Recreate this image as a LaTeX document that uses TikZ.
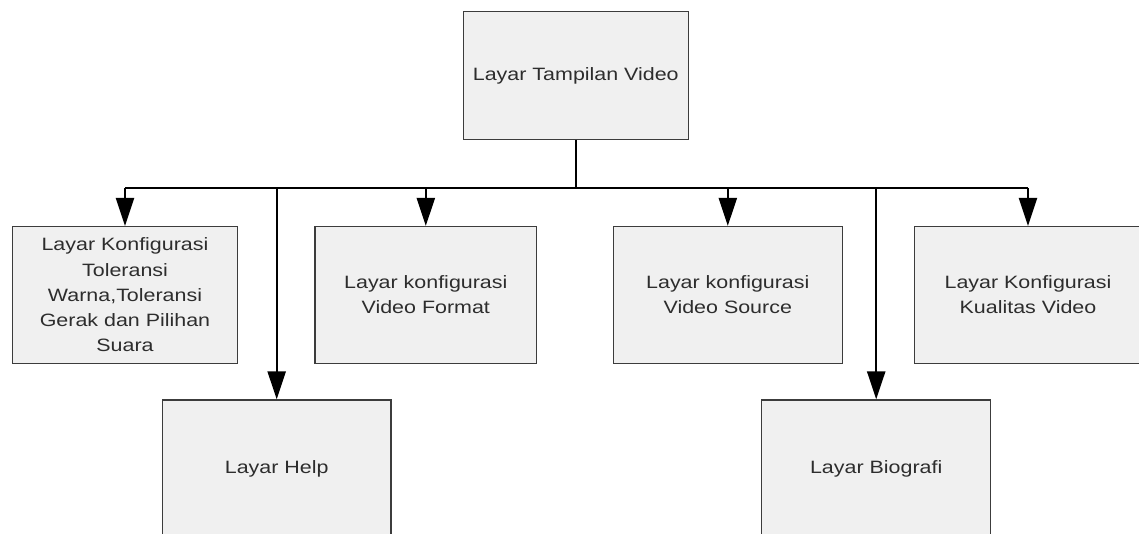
\documentclass[tikz,border=0pt]{standalone}
\usepackage{fontspec}
\setmainfont{Liberation Sans}[FakeStretch=1.2]
\usepackage{tikz}
\usetikzlibrary{arrows.meta}

\begin{document}
\begin{tikzpicture}[x=0.75pt,y=0.75pt,yscale=-1,xscale=1,
  layar/.style={draw={rgb, 255:red, 60; green, 60; blue, 60 }, line width=1.1pt, fill={rgb, 255:red, 240; green, 240; blue, 240 }, text={rgb, 255:red, 45; green, 45; blue, 45 }, align=center, inner sep=0.75pt, minimum height=102.5pt, font=\fontsize{13.4pt}{18.9pt}\selectfont},
  jalur/.style={draw=black, line width=1.7pt},
  panah/.style={jalur, -{Triangle[width=13.5pt,length=21pt]}}]
\useasboundingbox (0,0) rectangle (1139,534);
\clip (0,0) rectangle (1139,534);
\node (utama) at (575.8,75.5) [layar, minimum width=168.75pt, minimum height=95.7pt] {Layar Tampilan Video};
\node (toleransi) at (125,295) [layar, minimum width=169pt] {Layar Konfigurasi\\Toleransi\\Warna,Toleransi\\Gerak dan Pilihan\\Suara};
\node (format) at (425.8,295) [layar, minimum width=166.3pt] {Layar konfigurasi\\Video Format};
\node (source) at (727.8,295) [layar, minimum width=171.75pt] {Layar konfigurasi\\Video Source};
\node (kualitas) at (1028,295) [layar, minimum width=170.5pt] {Layar Konfigurasi\\Kualitas Video};
\node (help) at (276.7,468.5) [layar, minimum width=171.5pt] {Layar Help};
\node (biografi) at (876.2,468.5) [layar, minimum width=171.75pt] {Layar Biografi};
\coordinate (bus) at (575.8,188);
\draw [jalur] (utama.south) -- (bus) ;
\draw [jalur] (bus -| toleransi.north) -- (bus -| kualitas.north) ;
\draw [panah] (bus -| toleransi.north) -- (toleransi.north) ;
\draw [panah] (bus -| help.north) -- (help.north) ;
\draw [panah] (bus -| format.north) -- (format.north) ;
\draw [panah] (bus -| source.north) -- (source.north) ;
\draw [panah] (bus -| biografi.north) -- (biografi.north) ;
\draw [panah] (bus -| kualitas.north) -- (kualitas.north) ;
\end{tikzpicture}
\end{document}
